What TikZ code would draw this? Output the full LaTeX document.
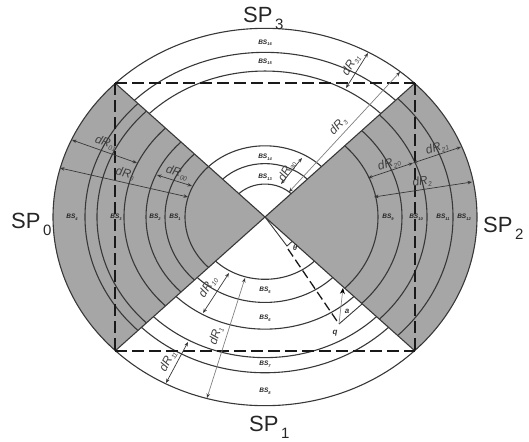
\documentclass[tikz,border=0pt]{standalone}
\usepackage{fontspec}
\setmainfont{Liberation Sans}
\usetikzlibrary{arrows.meta}
\definecolor{wedge}{gray}{0.65}
\definecolor{ink}{gray}{0.22}
\tikzset{
  arcline/.style={draw=ink,line width=1.1pt},
  ellipsecs/.style={shift={(c)},x=1pt,y=0.89pt},
  square/.style={draw=black!90,line width=1.5pt,dash pattern=on 12pt off 5pt},
  dim/.style={draw=ink,line width=0.7pt,{Stealth[length=4.5pt,width=3.5pt]}-{Stealth[length=4.5pt,width=3.5pt]}},
  dimlight/.style={draw=black!50,line width=0.7pt,{Stealth[length=4.5pt,width=3.5pt,color=ink]}-{Stealth[length=4.5pt,width=3.5pt,color=ink]}},
  bslabel/.style={inner sep=0pt,font=\fontsize{6.5}{7}\selectfont\bfseries\itshape,text=black!85},
  drlabel/.style={inner sep=0pt,font=\fontsize{12}{13}\selectfont\itshape,text=black!75},
  splabel/.style={inner sep=0pt,anchor=base west,font=\fontsize{22}{24}\selectfont,text=black!85},
  smalllabel/.style={inner sep=0pt,font=\fontsize{8}{9}\selectfont\bfseries\itshape,text=black!80}
}
\newcommand{\BS}[1]{BS\raisebox{-1.5pt}{\fontsize{4}{4}\selectfont #1}}
\newcommand{\DR}[1]{dR\raisebox{-2.5pt}{\fontsize{6.5}{7}\selectfont #1}}
\newcommand{\SPL}[1]{SP\raisebox{-7pt}{\fontsize{15}{15}\selectfont\,#1}}
\begin{document}
\begin{tikzpicture}[x=1pt,y=-1pt]
\useasboundingbox (0,0) rectangle (529,441);
\coordinate (c) at (265,217);
\coordinate (nw) at (115,83);
\coordinate (ne) at (415,83);
\coordinate (sw) at (115,351);
\coordinate (se) at (415,351);

% grey sectors
\begin{scope}[ellipsecs]
  \fill[wedge] (0,0) -- (135:212) arc[start angle=135,end angle=225,x radius=212pt,y radius=188.7pt] -- cycle;
  \fill[wedge] (0,0) -- (-45:212) arc[start angle=-45,end angle=45,x radius=212pt,y radius=188.7pt] -- cycle;
  % left
  \foreach \r in {80,100,119,141,168,180,212}
    \draw[arcline] (135:\r) arc[start angle=135,end angle=225,x radius=\r pt,y radius={0.89*\r pt}];
  % right
  \foreach \r in {113,137,162,188,212}
    \draw[arcline] (-45:\r) arc[start angle=-45,end angle=45,x radius=\r pt,y radius={0.89*\r pt}];
  % top
  \foreach \r in {37,60,80,164,185,212}
    \draw[arcline] (45:\r) arc[start angle=45,end angle=135,x radius=\r pt,y radius={0.89*\r pt}];
  % bottom
  \foreach \r in {70,96,126,158,175,212}
    \draw[arcline] (225:\r) arc[start angle=225,end angle=315,x radius=\r pt,y radius={0.89*\r pt}];
\end{scope}

% sector boundaries
\draw[arcline] (nw) -- (se);
\draw[arcline] (ne) -- (sw);

% dashed square
\draw[square] (nw) -- (ne);
\draw[square] (ne) -- (se);
\draw[square] (nw) -- (sw);
\draw[square] (sw) -- (se);

% angle construction
\coordinate (t1) at (287,246);
\coordinate (t2) at (292,241.5);
\coordinate (t3) at (288,249);
\coordinate (q0) at (339,324);
\coordinate (q1) at (362,304);
\coordinate (q2) at (343,288);
\draw[arcline,line width=0.9pt] (c) -- (t1) -- (t2);
\draw[square,line width=1.3pt,dash pattern=on 9pt off 4pt] (t3) -- (q0);
\draw[arcline,line width=0.9pt] (q0) -- (q1);
\draw[draw=black!45,line width=0.7pt,-{Stealth[length=6pt,width=5pt,color=black]}] (q0) -- (q2);
\node[smalllabel] (ltheta) at (295,248) {θ};
\node[smalllabel] (la) at (347,311) {a};
\node[smalllabel] (lq) at (335,333) {q};

% dimension arrows
\coordinate (a10a) at (229,273); \coordinate (a10b) at (203,313);
\coordinate (a1a) at (245,278);  \coordinate (a1b) at (207,398);
\coordinate (a11a) at (188,342); \coordinate (a11b) at (166,383);
\coordinate (a30a) at (302,158); \coordinate (a30b) at (281,184);
\coordinate (a3a) at (400,72);   \coordinate (a3b) at (289,192);
\coordinate (a31a) at (368,53);  \coordinate (a31b) at (346,88);
\coordinate (a20a) at (413,163); \coordinate (a20b) at (368,178);
\coordinate (a21a) at (461,147);
\coordinate (a2a) at (472,182);  \coordinate (a2b) at (374,197);
\coordinate (a00a) at (157,175); \coordinate (a00b) at (192,186);
\coordinate (a0a) at (60,168);   \coordinate (a0b) at (188,197);
\coordinate (a01a) at (72,140);  \coordinate (a01b) at (137,163);
\draw[dim] (a10a) -- (a10b);
\draw[dimlight] (a1a) -- (a1b);
\draw[dim] (a11a) -- (a11b);
\draw[dim] (a30a) -- (a30b);
\draw[dimlight] (a3a) -- (a3b);
\draw[dim] (a31a) -- (a31b);
\draw[dim] (a20a) -- (a20b);
\draw[dim] (a21a) -- (a20a);
\draw[dim] (a2a) -- (a2b);
\draw[dim] (a00a) -- (a00b);
\draw[dim] (a0a) -- (a0b);
\draw[dim] (a01a) -- (a01b);

% dimension labels
\node[drlabel,rotate=57] (d10) at (208,287) {\DR{10}};
\node[drlabel,rotate=72] (d1) at (216,336) {\DR{1}};
\node[drlabel,rotate=62] (d11) at (168,361) {\DR{11}};
\node[drlabel,rotate=60] (d30) at (287,171) {\DR{30}};
\node[drlabel,rotate=47] (d3) at (338,126) {\DR{3}};
\node[drlabel,rotate=58] (d31) at (351,65) {\DR{31}};
\node[drlabel,rotate=18] (d20) at (389,164) {\DR{20}};
\node[drlabel,rotate=18] (d21) at (437,148) {\DR{21}};
\node[drlabel,rotate=9] (d2) at (422,182) {\DR{2}};
\node[drlabel,rotate=-17] (d00) at (177,173) {\DR{00}};
\node[drlabel,rotate=-13] (d0) at (125,174) {\DR{0}};
\node[drlabel,rotate=-20] (d01) at (106,143) {\DR{01}};

% block labels
\node[bslabel] (b1) at (175,217) {\BS{1}};
\node[bslabel] (b2) at (155,217) {\BS{2}};
\node[bslabel] (b3) at (116,217) {\BS{3}};
\node[bslabel] (b4) at (72,217) {\BS{4}};
\node[bslabel] (b5) at (265,290) {\BS{5}};
\node[bslabel] (b6) at (265,318) {\BS{6}};
\node[bslabel] (b7) at (265,364) {\BS{7}};
\node[bslabel] (b8) at (265,391) {\BS{8}};
\node[bslabel] (b9) at (388,217) {\BS{9}};
\node[bslabel] (b10) at (416,217) {\BS{10}};
\node[bslabel] (b11) at (443,217) {\BS{11}};
\node[bslabel] (b12) at (464,217) {\BS{12}};
\node[bslabel] (b13) at (265,177) {\BS{13}};
\node[bslabel] (b14) at (265,157) {\BS{14}};
\node[bslabel] (b15) at (265,62) {\BS{15}};
\node[bslabel] (b16) at (265,43) {\BS{16}};

% sector labels
\node[splabel] (sp0) at (11,228) {\SPL{0}};
\node[splabel] (sp1) at (249,431) {\SPL{1}};
\node[splabel] (sp2) at (483,232) {\SPL{2}};
\node[splabel] (sp3) at (243,23) {\SPL{3}};
\end{tikzpicture}
\end{document}
